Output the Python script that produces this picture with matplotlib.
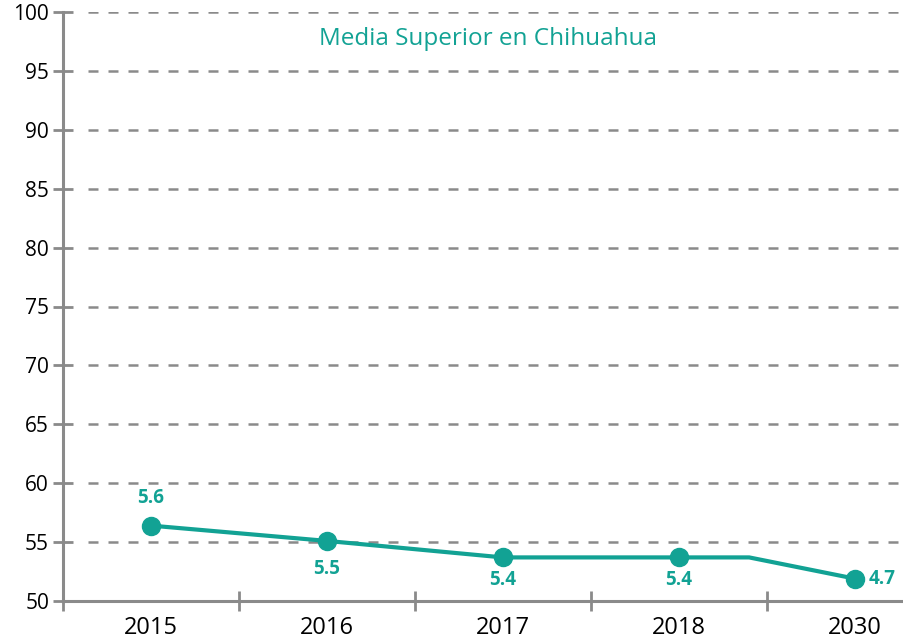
import matplotlib.pyplot as plt
from matplotlib.ticker import FixedLocator

# datos
years = ["2015", "2016", "2017", "2018", "2030"]
values = [56.4, 55.1, 53.7, 53.7, 51.9]
value_labels = ["5.6", "5.5", "5.4", "5.4", "4.7"]
bend_pos = 3.4  # la linea sigue plana un poco despues de 2018

teal = "#12a294"
gray = "#8a8a8a"

plt.rcParams['font.family'] = ['Open Sans', 'DejaVu Sans']

fig = plt.figure(figsize=(9.04, 6.4), dpi=100)
ax = fig.add_axes([63/904, 39/640, 841/904, 589/640])

xs = list(range(len(years)))
ax.set_xlim(-0.5, 4.28)
ax.set_ylim(50, 100)

# lineas de referencia punteadas
for y in range(55, 101, 5):
    ax.axhline(y, xmin=0.03, xmax=1, color=gray, lw=1.8,
               linestyle=(0, (4, 4)), zorder=1)

line_x = xs[:4] + [bend_pos, xs[4]]
line_y = values[:4] + [values[3], values[4]]
ax.plot(line_x, line_y, color=teal, lw=3, zorder=3)
ax.plot(xs, values, 'o', color=teal, markersize=13, zorder=4)

# etiquetas de valores
offsets = [(0, 13, 'center', 'bottom'), (0, -13, 'center', 'top'),
           (0, -9, 'center', 'top'), (0, -9, 'center', 'top'),
           (10, 0, 'left', 'center')]
for x, v, lab, (dx, dy, ha, va) in zip(xs, values, value_labels, offsets):
    ax.annotate(lab, (x, v), xytext=(dx, dy), textcoords='offset points',
                ha=ha, va=va, color=teal, fontsize=13.5, fontweight='bold')

ax.text(0.505, 0.955, "Media Superior en Chihuahua", color=teal,
        fontsize=17.5, fontweight='medium', ha='center', va='center',
        transform=ax.transAxes)

# ejes
for s in ['top', 'right']:
    ax.spines[s].set_visible(False)
for s in ['left', 'bottom']:
    ax.spines[s].set_color(gray)
    ax.spines[s].set_linewidth(2.2)

ax.set_yticks(range(50, 101, 5))
ax.tick_params(axis='y', direction='inout', length=14, width=2, color=gray,
               labelsize=15, pad=3)
ax.set_xticks(xs)
ax.set_xticklabels(years)
ax.tick_params(axis='x', which='major', length=0, labelsize=17, pad=11)
ax.xaxis.set_minor_locator(FixedLocator([-0.5, 0.5, 1.5, 2.5, 3.5]))
ax.tick_params(axis='x', which='minor', direction='inout', length=14,
               width=2, color=gray)

fig.savefig("out.png", dpi=100)
